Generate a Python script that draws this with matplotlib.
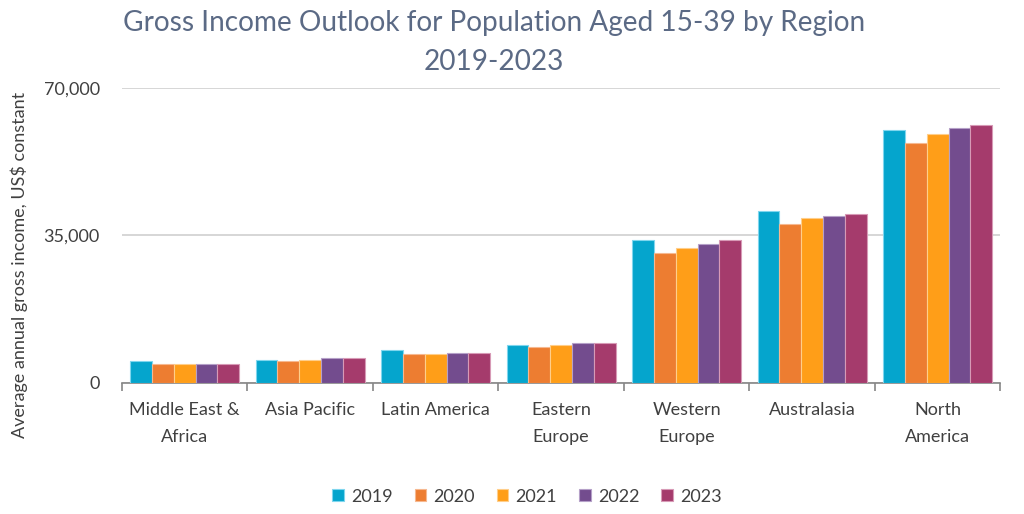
import numpy as np
import matplotlib.pyplot as plt

plt.rcParams['font.family'] = ['Lato', 'DejaVu Sans']

regions = ['Middle East &\nAfrica', 'Asia Pacific', 'Latin America', 'Eastern\nEurope',
           'Western\nEurope', 'Australasia', 'North\nAmerica']
years = ['2019', '2020', '2021', '2022', '2023']
v2019 = [5100, 5550, 7700, 9000, 33900, 40800, 60000]
v2020 = [4600, 5100, 6800, 8500, 30800, 37800, 57000]
v2021 = [4600, 5550, 6800, 9000, 32100, 39200, 59100]
v2022 = [4600, 5950, 7200, 9500, 32900, 39600, 60400]
v2023 = [4600, 5950, 7200, 9500, 33900, 40000, 61300]
series = [v2019, v2020, v2021, v2022, v2023]
colors = ['#05A5CD', '#ED7D31', '#FF9E18', '#734C8E', '#A53B6C']
edges = ['#7FD6EE', '#F6B890', '#FFCE8A', '#B5A0C8', '#D79AB6']

fig = plt.figure(figsize=(10.24, 5.14), dpi=100)
ax = fig.add_axes([0.119, 0.255, 0.858, 0.574])

x = np.arange(len(regions))
w = 0.174
for i, vals in enumerate(series):
    ax.bar(x + (i - 2) * w, vals, w, color=colors[i], edgecolor=edges[i],
           linewidth=0.8, label=years[i], zorder=3)

ax.set_xlim(-0.5, len(regions) - 0.5)
ax.set_ylim(0, 70000)
ax.set_yticks([0, 35000, 70000])
ax.set_yticklabels(['0', '35,000', '70,000'], fontsize=13, color='#404040')
ax.yaxis.grid(True, color='#D0D0D0', linewidth=1.2, zorder=0)
ax.tick_params(axis='y', length=0, pad=16)

ax.set_xticks(x)
ax.set_xticklabels(regions, fontsize=13, color='#404040', linespacing=1.8)
ax.tick_params(axis='x', length=0, pad=14)
ax.set_xticks(np.arange(-0.5, len(regions), 1), minor=True)
ax.tick_params(axis='x', which='minor', length=6, color='#868686', width=1.2)

for s in ['top', 'right', 'left']:
    ax.spines[s].set_visible(False)
ax.spines['bottom'].set_color('#868686')
ax.spines['bottom'].set_linewidth(1.2)

ax.set_ylabel('Average annual gross income, US$ constant', fontsize=13,
              color='#404040')
ax.yaxis.set_label_coords(-0.107, 0.4)

fig.text(0.482, 0.955, 'Gross Income Outlook for Population Aged 15-39 by Region',
         ha='center', va='center', fontsize=20.2, color='#5B6A85')
fig.text(0.482, 0.88, '2019-2023', ha='center', va='center', fontsize=20.2, color='#5B6A85')

leg = ax.legend(loc='center', bbox_to_anchor=(0.461, -0.385), ncol=5, frameon=False,
                fontsize=13, handlelength=0.65, handleheight=0.65, handletextpad=0.4,
                columnspacing=1.2)
for t in leg.get_texts():
    t.set_color('#404040')

fig.savefig('out.png', dpi=100)
